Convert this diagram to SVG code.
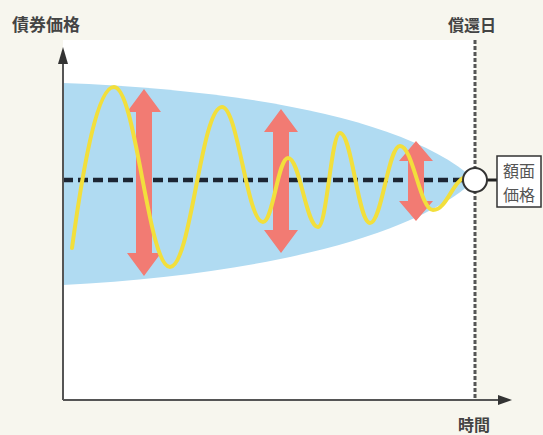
<svg xmlns="http://www.w3.org/2000/svg" width="543" height="435" viewBox="0 0 543 435">
<defs>
<style>
.lbl{font-family:"Noto Sans CJK JP","Noto Sans CJK SC",sans-serif;fill:#444;font-weight:bold;font-size:16px}
.box{font-family:"Noto Sans CJK JP","Noto Sans CJK SC",sans-serif;fill:#555;font-size:16px}
.arrow{fill:#f27b73}
.axis{stroke:#555;stroke-width:2;fill:none}
</style>
</defs>
<rect x="0" y="0" width="543" height="435" fill="#f7f6ee"/>
<rect x="63" y="40" width="412" height="360" fill="#ffffff"/>
<g id="envelope">
<path d="M63,83 C250,90 410,120 475,180 C410,240 250,275 63,285 Z" fill="#b0dbf2"/>
</g>
<g id="connectors">
<line x1="63" y1="180" x2="463" y2="180" stroke="#1c2533" stroke-width="4.5" stroke-dasharray="10 5"/>
<line x1="475" y1="40" x2="475" y2="400" stroke="#555" stroke-width="3" stroke-dasharray="4 2"/>
<line class="axis" x1="63" y1="400" x2="63" y2="60"/>
<polygon points="63,47 58,64 68,64" fill="#333"/>
<line class="axis" x1="63" y1="400" x2="500" y2="400"/>
<polygon points="512,400 498,395 498,405" fill="#333"/>
<line x1="486" y1="180" x2="497" y2="180" stroke="#222" stroke-width="3"/>
</g>
<g id="arrow1"><polygon class="arrow" points="144,89 161,112 152,112 152,253 161,253 144,276 127,253 136,253 136,112 127,112"/></g>
<g id="arrow2"><polygon class="arrow" points="281,109 298,132 289,132 289,230 298,230 281,253 264,230 273,230 273,132 264,132"/></g>
<g id="arrow3"><polygon class="arrow" points="416,141 433,161 424,161 424,201 433,201 416,221 399,201 408,201 408,161 399,161"/></g>
<g id="wave">
<path d="M72,248 C84,160 98,87 114,87 C136,87 148,267 170,267 C191,267 201,107 222,107 C238,107 247,222 263,222 C273,222 278,158 288,158 C300,158 306,227 318,227 C327,227 331,133 340,133 C352,133 358,223 370,223 C382,223 388,146 400,146 C413,146 420,210 433,210 C446,210 452,184 463,178" fill="none" stroke="#f2df3c" stroke-width="4" stroke-linecap="round"/>
</g>
<g id="maturity-point">
<circle cx="475" cy="180" r="12" fill="#fff" stroke="#333" stroke-width="2"/>
</g>
<g id="face-value">
<rect x="497" y="156" width="44" height="51" fill="#fff" stroke="#333" stroke-width="1.5"/>
<text class="box" x="519" y="177" text-anchor="middle">額面</text>
<text class="box" x="519" y="201" text-anchor="middle">価格</text>
</g>
<g id="labels">
<text class="lbl" x="12" y="31" font-size="17" style="font-size:17px">債券価格</text>
<text class="lbl" x="472" y="31" text-anchor="middle">償還日</text>
<text class="lbl" x="474" y="431" text-anchor="middle">時間</text>
</g>
</svg>
